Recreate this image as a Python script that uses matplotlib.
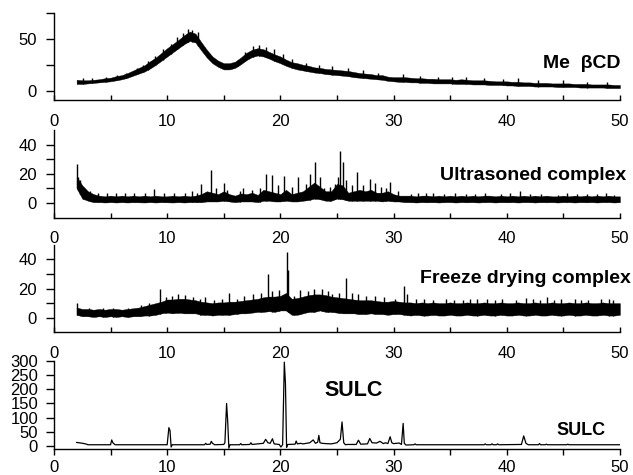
import numpy as np
import matplotlib.pyplot as plt
from matplotlib.ticker import MultipleLocator, FixedLocator

plt.rcParams['font.family'] = ['Liberation Sans', 'DejaVu Sans']

# 2-theta grid (deg) on which the band envelopes are sampled
two_theta = np.arange(2.0, 50.01, 0.5)

# Me-beta-CD: amorphous halo, lower / upper edge of the noisy trace
mecd_lo = [6.5, 6.5, 7, 7.5, 8, 8.5, 9, 10, 11, 12.5,
           14.5, 16.5, 18.5, 21.5, 25, 29, 33, 37, 41, 45,
           48, 46.5, 39, 32, 26.5, 23, 20.5, 20.5, 22, 25.5,
           29.5, 32.5, 34, 33, 31, 28.5, 26.5, 24, 22, 20.5,
           19.5, 18.5, 17.5, 17, 16, 15.5, 15, 14.5, 14, 13,
           12.5, 12, 11.5, 11, 10.5, 9.5, 9, 8.5, 8.5, 8,
           8, 7.5, 7.5, 7, 7, 7, 7, 6.5, 6.5, 6.5,
           6, 6, 6, 5.5, 5.5, 5.5, 5, 5, 4.5, 4.5,
           4.5, 4, 4, 4, 4, 3.5, 3.5, 3.5, 3.5, 3,
           3, 3, 3, 3, 2.5, 2.5, 2.5]
mecd_hi = [10.5, 10, 10, 10.5, 11, 12, 12.5, 14, 15, 17,
           19.5, 22, 24.5, 28.5, 32, 36.5, 41, 45, 49, 53.5,
           57, 55, 47, 39.5, 33, 29, 26.5, 26.5, 28, 32,
           36.5, 39.5, 41, 40, 37.5, 35, 33, 30, 27.5, 26.5,
           25, 24, 22.5, 22, 21, 20.5, 20, 19.5, 19, 18,
           17, 16.5, 16, 15, 15, 13.5, 13, 13, 13, 12.5,
           12, 12, 11.5, 11.5, 11, 11, 11, 10.5, 11, 10.5,
           10, 10, 10, 9.5, 9, 9, 9, 8.5, 8.5, 8,
           8, 7.5, 7.5, 7.5, 7, 7, 7, 7, 6.5, 6.5,
           6.5, 6, 6, 6, 6, 5.5, 5.5]
mecd_spike_pos = [2.6, 3.4, 4.6, 5.6, 6.4, 7.3, 7.9, 8.3, 8.9, 9.6,
                  10.3, 10.9, 11.4, 11.8, 12.2, 12.7, 16.3, 16.9, 17.6, 18.1,
                  18.7, 19.4, 20.2, 21.0, 22.3, 23.4, 24.6, 26.0, 27.3, 28.6,
                  30.8, 32.3, 33.9, 35.2, 36.4, 38.0, 39.7, 41.0, 42.8, 45.0,
                  47.1, 48.9]
mecd_spike_top = [12, 12, 13, 15, 17, 22, 25, 29, 33, 40,
                  45, 52, 56, 60, 59, 57, 30, 37, 43, 44,
                  42, 40, 35, 31, 27, 25, 24, 22, 20, 17,
                  16, 14.5, 13.5, 13, 13, 12, 11.5, 12, 10, 10,
                  8.5, 8]

# ultrasoned complex
ultra_lo = [10, 3, 1.5, 0.5, 0.5, 0.3, 0.5, 0.3, 0.5, 0.3,
            0.5, 0.4, 0.3, 0.5, 0.3, 0.5, 0.4, 0.3, 0.5, 0.3,
            0.5, 0.5, 0.5, 1, 1, 1, 1.5, 1, 0.5, 1,
            1, 1, 0.5, 1.5, 1.5, 1, 1, 1.5, 1, 1,
            1.5, 2, 3, 2.5, 1.5, 1.5, 3, 2.5, 1.5, 1.5,
            1.5, 1.5, 1.5, 1.5, 1, 1.5, 1, 1, 0.5, 0.5,
            0.3, 0.5, 0.4, 0.5, 0.3, 0.5, 0.5, 0.3, 0.5, 0.4,
            0.5, 0.3, 0.5, 0.5, 0.3, 0.5, 0.4, 0.5, 0.3, 0.5,
            0.5, 0.3, 0.5, 0.4, 0.5, 0.3, 0.5, 0.5, 0.3, 0.5,
            0.4, 0.5, 0.3, 0.5, 0.5, 0.3, 0.5]
ultra_hi = [18, 12, 8, 6, 5, 4.5, 5, 4.5, 5, 4.5,
            5, 4.5, 5, 4.5, 5, 4.5, 4.5, 5, 4.5, 5,
            4.5, 5, 6, 8, 7, 6, 8, 6, 5, 6.5,
            6, 7, 5.5, 9, 8, 7, 6, 9, 6, 7,
            8, 11, 14, 11, 8, 8, 13, 12, 7, 8,
            9, 8, 9, 7, 7, 8, 6, 5, 5, 5,
            4.5, 5, 5, 4.5, 5, 4.5, 5, 4.5, 5, 4.5,
            5, 4.5, 5, 5, 4.5, 5, 4.5, 5, 4.5, 5,
            4.5, 5, 4.5, 5, 4.5, 4.5, 5, 4.5, 5, 4.5,
            5, 4.5, 5, 4.5, 5, 4.5, 4.5]
ultra_spike_pos = [2.0, 2.1, 2.3, 2.6, 3.2, 3.9, 4.7, 5.5, 6.3, 7.1,
                   8.0, 8.8, 9.7, 10.6, 11.6, 12.2, 12.6, 13.0, 13.85, 14.3,
                   15.0, 15.3, 16.4, 16.7, 17.5, 18.2, 18.7, 19.3, 19.8, 20.35,
                   21.0, 21.6, 22.3, 22.6, 23.1, 23.5, 23.9, 24.4, 24.8, 25.1,
                   25.3, 25.5, 25.8, 26.3, 26.8, 27.3, 27.9, 28.4, 28.9, 29.3,
                   29.7, 30.4, 31.5, 32.2, 32.9, 33.5, 34.5, 35.4, 36.4, 37.2,
                   38.1, 39.5, 40.3, 41.2, 42.1, 43.0, 44.5, 45.3, 46.2, 47.1,
                   48.0, 48.8, 49.5]
ultra_spike_top = [27, 18, 16, 11, 8, 7, 7, 6.5, 6.5, 6.5,
                   7, 9.5, 6.5, 6.5, 6.5, 8, 7, 13, 22.5, 10,
                   14, 9, 8, 10, 9, 10, 20, 19, 12, 18.5,
                   11, 18, 13, 20, 28, 18, 10, 11, 13, 18,
                   35.5, 28, 16, 12, 21, 12, 16.5, 14, 11, 10,
                   14.5, 8, 6, 6.5, 7, 7, 6, 6.5, 6, 6,
                   7, 6, 6.5, 8, 6, 6, 5.5, 6.5, 6, 6,
                   6, 6.5, 5.5]

# freeze dried complex
freeze_lo = [2, 1, 1, 0.5, 1, 0.5, 1, 0.5, 1, 0.5,
             1, 1, 1.5, 1.5, 2, 3, 3.5, 3, 3.5, 3,
             3, 3, 2, 2, 1.5, 2, 2, 2, 2.5, 3,
             3, 3.5, 4, 4, 4.5, 4, 5, 5, 2, 2,
             3, 4, 4, 5, 4, 4, 3.5, 3, 3, 3,
             2.5, 2.5, 3, 2.5, 2.5, 2, 2.5, 2.5, 2, 1.5,
             2, 1.5, 1.5, 2, 1.5, 1.5, 2, 1.5, 1.5, 2,
             1.5, 1.5, 2, 1.5, 1.5, 2, 1.5, 1.5, 2, 1.5,
             1.5, 2, 1.5, 1.5, 2, 1.5, 1.5, 2, 1.5, 1.5,
             2, 1.5, 1.5, 2, 1.5, 1.5, 2]
freeze_hi = [7, 6, 6, 5.5, 6, 5.5, 6, 6, 5.5, 6,
             6.5, 7, 8, 9, 10, 11, 12.5, 12.5, 13, 13,
             12.5, 12, 11, 10.5, 10, 10.5, 10.5, 11, 11, 11.5,
             12, 12.5, 13, 14, 14.5, 14.5, 15, 17, 13, 13.5,
             14.5, 15.5, 16, 16, 15.5, 14.5, 14, 13.5, 13, 12.5,
             12, 12, 12, 11.5, 11, 11, 11.5, 11, 10.5, 10.5,
             10, 10.5, 10, 10.5, 10, 10, 10.5, 10, 10, 10.5,
             10, 10, 10.5, 10, 10, 10.5, 10, 10, 10.5, 10,
             10, 10.5, 10, 10, 10.5, 10, 10, 10.5, 10, 10,
             10.5, 10, 10, 10.5, 10, 10, 10]
freeze_spike_pos = [2.0, 3.1, 4.3, 5.2, 6.5, 7.7, 8.4, 9.35, 9.9, 10.4,
                    11.0, 11.6, 12.3, 12.9, 13.3, 14.1, 14.8, 15.5, 16.2, 16.8,
                    17.6, 18.3, 18.9, 19.3, 19.9, 20.55, 20.7, 21.2, 21.7, 22.4,
                    23.0, 23.7, 24.2, 24.6, 25.2, 25.8, 26.3, 26.9, 27.6, 28.4,
                    29.2, 30.1, 30.9, 31.2, 32.0, 32.7, 33.5, 34.6, 35.3, 36.1,
                    36.8, 37.4, 38.3, 39.0, 39.6, 40.8, 41.7, 42.3, 42.9, 43.6,
                    44.2, 44.8, 46.0, 46.6, 47.2, 48.3, 49.0, 49.4]
freeze_spike_top = [10, 7, 7, 7, 7, 9, 10, 20, 14, 15,
                    16, 15.5, 14, 13, 14.5, 12, 13, 17, 13, 15,
                    16, 17, 30, 18, 19, 45, 33, 15, 19, 18,
                    20, 20, 18, 16, 17, 27, 17, 16, 15, 15,
                    14, 13, 22, 16, 13, 12.5, 12, 13, 12, 12,
                    13, 13, 12.5, 12, 13, 12, 13.5, 12.5, 12, 14,
                    12, 12.5, 13, 12, 12, 13, 12.5, 12]

# crystalline SULC trace (2-theta, counts)
sulc_x = [2.0, 2.4, 2.8, 3.0, 5.0, 5.1, 5.2, 5.4,
          10.0, 10.15, 10.25, 10.35, 10.45,
          13.3, 13.4, 13.5, 13.8, 13.9, 14.0, 14.2,
          15.0, 15.1, 15.25, 15.35, 15.45, 15.55,
          16.4, 16.5, 16.6, 17.3, 17.4, 17.5, 18.0, 18.5, 18.7, 18.9,
          19.1, 19.3, 19.45, 19.9, 20.05, 20.2, 20.35, 20.45, 20.55, 20.65,
          21.3, 21.4, 21.5, 21.8, 22.0, 22.6, 22.9, 23.1, 23.3, 23.4,
          23.5, 23.7, 24.0, 24.5, 25.0, 25.3, 25.45, 25.6, 25.75, 25.9,
          26.7, 26.9, 27.1, 27.7, 27.9, 28.1, 28.5, 28.8, 29.1, 29.3,
          29.5, 29.7, 29.85, 30.0, 30.5, 30.7, 30.85, 30.95, 31.1,
          31.8, 31.9, 32.0, 38.0, 38.1, 38.2, 38.6, 38.7, 38.8,
          39.1, 39.2, 39.3, 41.3, 41.5, 41.7, 41.9,
          42.8, 42.9, 43.0, 43.4, 43.5, 43.6, 45.3, 45.4, 45.5, 50.0]
sulc_y = [13, 11, 8, 5, 5, 22, 12, 5,
          5, 65, 55, -3, 5,
          5, 10, 6, 7, 17, 10, 5,
          6, 12, 150, 85, -7, 5,
          5, 9, 5, 6, 12, 6, 8, 10, 24, 12,
          10, 26, 8, 6, -3, 5, 295, 220, -4, 6,
          7, 18, 8, 10, 8, 12, 22, 10, 14, 38,
          12, 10, 9, 8, 12, 24, 85, 12, 5, 6,
          6, 21, 7, 8, 27, 12, 11, 17, 9, 12,
          9, 33, 12, 9, 11, 6, 80, 10, 4,
          5, 8, 5, 5, 8, 5, 5, 8, 5,
          5, 8, 5, 6, 36, 10, 5,
          5, 9, 5, 5, 7, 5, 5, 7, 5, 5]

x_ticks = [0, 10, 20, 30, 40, 50]

fig = plt.figure(figsize=(6.33, 4.75), dpi=100)
left, width = 0.0853, 0.894
ax1 = fig.add_axes([left, 0.7895, width, 0.1832])
ax2 = fig.add_axes([left, 0.5421, width, 0.1842])
ax3 = fig.add_axes([left, 0.3004, width, 0.1842])
ax4 = fig.add_axes([left, 0.0547, width, 0.1859])


def draw_band(ax, lo, hi, spike_pos, spike_top):
    ax.fill_between(two_theta, lo, hi, color='black', lw=0.3)
    base = np.interp(spike_pos, two_theta, lo)
    ax.vlines(spike_pos, base, spike_top, color='black', lw=1.0)


draw_band(ax1, mecd_lo, mecd_hi, mecd_spike_pos, mecd_spike_top)
draw_band(ax2, ultra_lo, ultra_hi, ultra_spike_pos, ultra_spike_top)
draw_band(ax3, freeze_lo, freeze_hi, freeze_spike_pos, freeze_spike_top)
ax4.plot(sulc_x, sulc_y, color='black', lw=0.9)

ax1.set_ylim(-9, 75)
ax1.yaxis.set_major_locator(FixedLocator([0, 50]))
ax1.yaxis.set_minor_locator(FixedLocator([25, 75]))
for ax in (ax2, ax3):
    ax.set_ylim(-10, 50)
    ax.yaxis.set_major_locator(FixedLocator([0, 20, 40]))
    ax.yaxis.set_minor_locator(FixedLocator([10, 30]))
ax4.set_ylim(-10, 300)
ax4.yaxis.set_major_locator(MultipleLocator(50))

for ax in (ax1, ax2, ax3, ax4):
    ax.set_xlim(0, 50)
    ax.set_xticks(x_ticks)
    ax.xaxis.set_minor_locator(MultipleLocator(5))
    for side in ('top', 'right'):
        ax.spines[side].set_visible(False)
    for side in ('left', 'bottom'):
        ax.spines[side].set_linewidth(1.0)
    ax.tick_params(axis='y', which='both', direction='out', length=5.5,
                   width=1.0, pad=7, labelsize=12)
    ax.tick_params(axis='x', which='both', direction='in', length=3.5,
                   width=1.0, pad=10, labelsize=12)
    ax.patch.set_visible(False)

ax4.tick_params(axis='x', which='both', direction='out', length=4, pad=4)
ax4.tick_params(axis='y', labelsize=12, pad=6)

bold = dict(fontweight='bold', color='black')
ax1.text(43.2, 26, 'Me  \u03b2CD', fontsize=14, va='center', ha='left', **bold)
ax2.text(34.1, 19, 'Ultrasoned complex', fontsize=14, va='center', ha='left', **bold)
ax3.text(32.3, 27, 'Freeze drying complex', fontsize=14, va='center', ha='left', **bold)
ax4.text(23.9, 197, 'SULC', fontsize=15.5, va='center', ha='left', **bold)
ax4.text(44.4, 56, 'SULC', fontsize=13, va='center', ha='left', **bold)

fig.savefig('out.png', dpi=100)
